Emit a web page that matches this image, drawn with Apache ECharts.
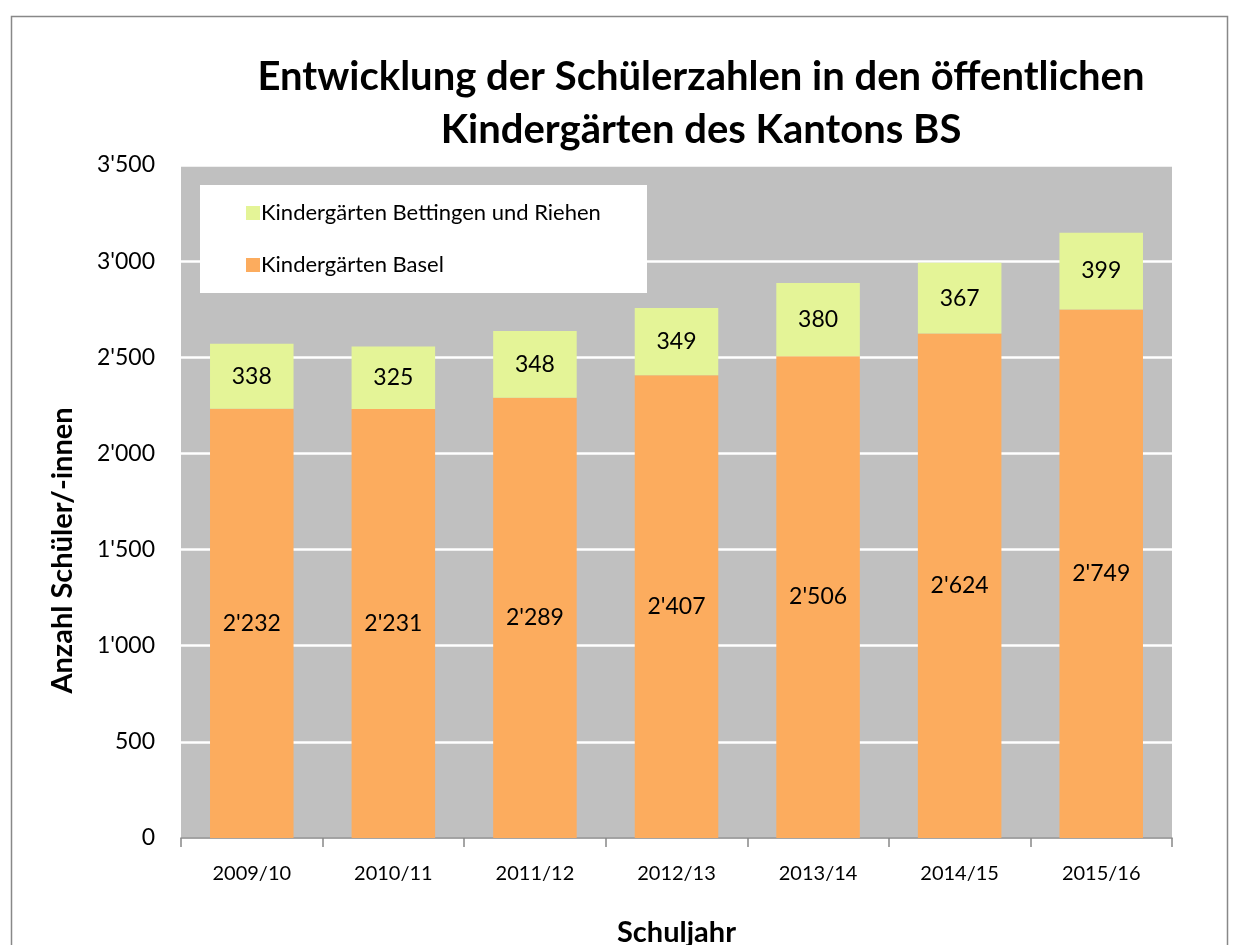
<!DOCTYPE html>
<html>
<head>
<meta charset="utf-8">
<script src="https://cdn.jsdelivr.net/npm/echarts@6/dist/echarts.min.js"></script>
<style>
  html, body { margin: 0; padding: 0; background: #ffffff; }
  #chart { width: 1237px; height: 945px; }
</style>
</head>
<body>
<div id="chart"></div>
<script>
// Schuljahre und Schülerzahlen
const years = ['2009/10', '2010/11', '2011/12', '2012/13', '2013/14', '2014/15', '2015/16']
const basel = [2232, 2231, 2289, 2407, 2506, 2624, 2749]
const bettingenRiehen = [338, 325, 348, 349, 380, 367, 399]

const fontFam = 'Lato, "Open Sans", sans-serif'

// 1234 -> 1'234
function swiss(v) {
  return String(v).replace(/\B(?=(\d{3})+(?!\d))/g, "'")
}

const myChart = echarts.init(document.getElementById('chart'))
myChart.setOption({
  backgroundColor: '#ffffff',
  animation: false,
  title: {
    text: 'Entwicklung der Schülerzahlen in den öffentlichen\nKindergärten des Kantons BS',
    left: 696,
    top: 46,
    textAlign: 'center',
    textStyle: {
      fontFamily: fontFam,
      fontSize: 40,
      fontWeight: 'bold',
      color: '#000',
      lineHeight: 53
    }
  },
  graphic: [
    {
      // Rahmen
      type: 'rect',
      shape: { x: 11.5, y: 16.5, width: 1216, height: 940 },
      style: { fill: 'none', stroke: '#888888', lineWidth: 1.5 },
      z: 0
    },
    {
      // Legendenhintergrund
      type: 'rect',
      shape: { x: 200, y: 185, width: 447, height: 108 },
      style: { fill: '#ffffff' },
      z: 5
    }
  ],
  legend: {
    left: 241,
    top: 197,
    orient: 'vertical',
    itemGap: 30,
    itemWidth: 14,
    itemHeight: 14,
    icon: 'rect',
    data: ['Kindergärten Bettingen und Riehen', 'Kindergärten Basel'],
    textStyle: { fontFamily: fontFam, fontSize: 22, color: '#000', padding: [0, 0, 0, -4] },
    z: 10
  },
  grid: {
    left: 181,
    right: 65,
    top: 165,
    bottom: 107,
    outerBoundsMode: 'none',
    show: true,
    backgroundColor: '#c0c0c0',
    borderWidth: 0
  },
  xAxis: {
    type: 'category',
    data: years,
    name: 'Schuljahr',
    nameLocation: 'middle',
    nameGap: 80,
    nameTextStyle: { fontFamily: fontFam, fontSize: 29, fontWeight: 'bold', color: '#000' },
    axisLine: { show: true, lineStyle: { color: '#888888', width: 1.5 } },
    axisTick: { show: true, length: 9, alignWithLabel: false, lineStyle: { color: '#888888', width: 1.5 } },
    axisLabel: { fontFamily: fontFam, fontSize: 20, color: '#000', margin: 26 }
  },
  yAxis: {
    type: 'value',
    min: 0,
    max: 3500,
    interval: 500,
    name: 'Anzahl Schüler/-innen',
    nameLocation: 'middle',
    nameGap: 104,
    nameRotate: 90,
    nameTextStyle: {
      fontFamily: fontFam, fontSize: 29, fontWeight: 'bold', color: '#000',
      padding: [0, 98, 0, 0]
    },
    axisLine: { show: false },
    axisTick: { show: false },
    axisLabel: {
      fontFamily: fontFam, fontSize: 23, color: '#000', margin: 26,
      formatter: v => swiss(v)
    },
    splitLine: { lineStyle: { color: '#ffffff', width: 2.5 } }
  },
  series: [
    {
      name: 'Kindergärten Basel',
      type: 'bar',
      stack: 'total',
      data: basel,
      barWidth: '59%',
      itemStyle: { color: '#fcac5e' },
      label: {
        show: true,
        position: 'inside',
        fontFamily: fontFam,
        fontSize: 23,
        color: '#000',
        formatter: p => swiss(p.value)
      }
    },
    {
      name: 'Kindergärten Bettingen und Riehen',
      type: 'bar',
      stack: 'total',
      data: bettingenRiehen,
      barWidth: '59%',
      itemStyle: { color: '#e4f497' },
      label: {
        show: true,
        position: 'inside',
        fontFamily: fontFam,
        fontSize: 23,
        color: '#000',
        formatter: p => swiss(p.value)
      }
    }
  ]
})
</script>
</body>
</html>
